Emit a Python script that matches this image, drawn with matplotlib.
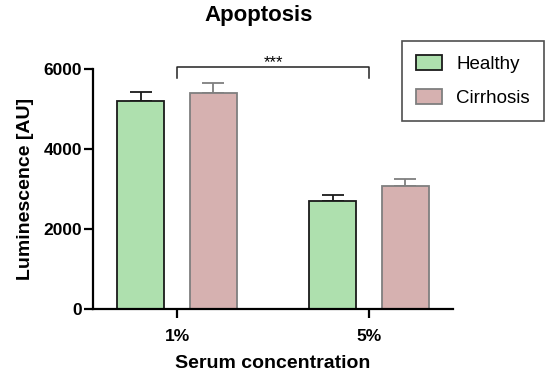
import matplotlib.pyplot as plt
import numpy as np

plt.rcParams['font.family'] = ['Liberation Sans', 'DejaVu Sans']

groups = ["1%", "5%"]
healthy = [5190, 2695]
healthy_err = [245, 150]
cirrhosis = [5395, 3070]
cirrhosis_err = [265, 180]

fig = plt.figure(figsize=(5.5, 3.79), dpi=100)
ax = fig.add_axes([93/550, 70/379, 360/550, 240/379])

x = np.arange(len(groups))
w = 0.245
off = 0.19
green = "#aee0ae"
pink = "#d6b1b0"

ax.bar(x - off, healthy, w, color=green, edgecolor="#1a1a1a", linewidth=1.3, label="Healthy", zorder=2)
ax.bar(x + off, cirrhosis, w, color=pink, edgecolor="#7f7f7f", linewidth=1.3, label="Cirrhosis", zorder=2)
ax.errorbar(x - off, healthy, yerr=[np.zeros(2), healthy_err], fmt="none", ecolor="#1a1a1a",
            elinewidth=1.3, capsize=8, capthick=1.3, zorder=1)
ax.errorbar(x + off, cirrhosis, yerr=[np.zeros(2), cirrhosis_err], fmt="none", ecolor="#7f7f7f",
            elinewidth=1.3, capsize=8, capthick=1.3, zorder=1)

# significance bracket
ax.plot([0, 0, 1, 1], [5770, 6050, 6050, 5770], color="#222222", lw=1.1, clip_on=False)
ax.text(0.5, 6150, "***", ha="center", va="center", fontsize=12)

ax.set_xlim(-84/192, 1 + 84/192)
ax.set_ylim(0, 6000)
ax.set_yticks([0, 2000, 4000, 6000])
ax.set_xticks(x)
ax.set_xticklabels(groups)
for s in ["top", "right"]:
    ax.spines[s].set_visible(False)
for s in ["left", "bottom"]:
    ax.spines[s].set_linewidth(1.6)
ax.tick_params(axis="both", width=1.6, length=6.5, labelsize=12.5)
ax.tick_params(axis="y", pad=1.5)
ax.tick_params(axis="x", pad=8)
for lab in ax.get_xticklabels() + ax.get_yticklabels():
    lab.set_fontweight("bold")

ax.set_xlabel("Serum concentration", fontsize=14, fontweight="bold", labelpad=8)
ax.set_ylabel("Luminescence [AU]", fontsize=14, fontweight="bold", labelpad=7)
fig.text(259/550, 1 - 16/379, "Apoptosis", fontsize=16, fontweight="bold", ha="center", va="center")

leg = fig.legend(loc="upper left", bbox_to_anchor=(402/550, 1 - 41/379), fontsize=13.5,
                 frameon=True, fancybox=False, edgecolor="#222222", borderaxespad=0,
                 handlelength=1.4, handleheight=0.85, labelspacing=0.85, borderpad=0.75,
                 handletextpad=0.75)
leg.get_frame().set_linewidth(1.2)

plt.savefig("out.png", dpi=100)
